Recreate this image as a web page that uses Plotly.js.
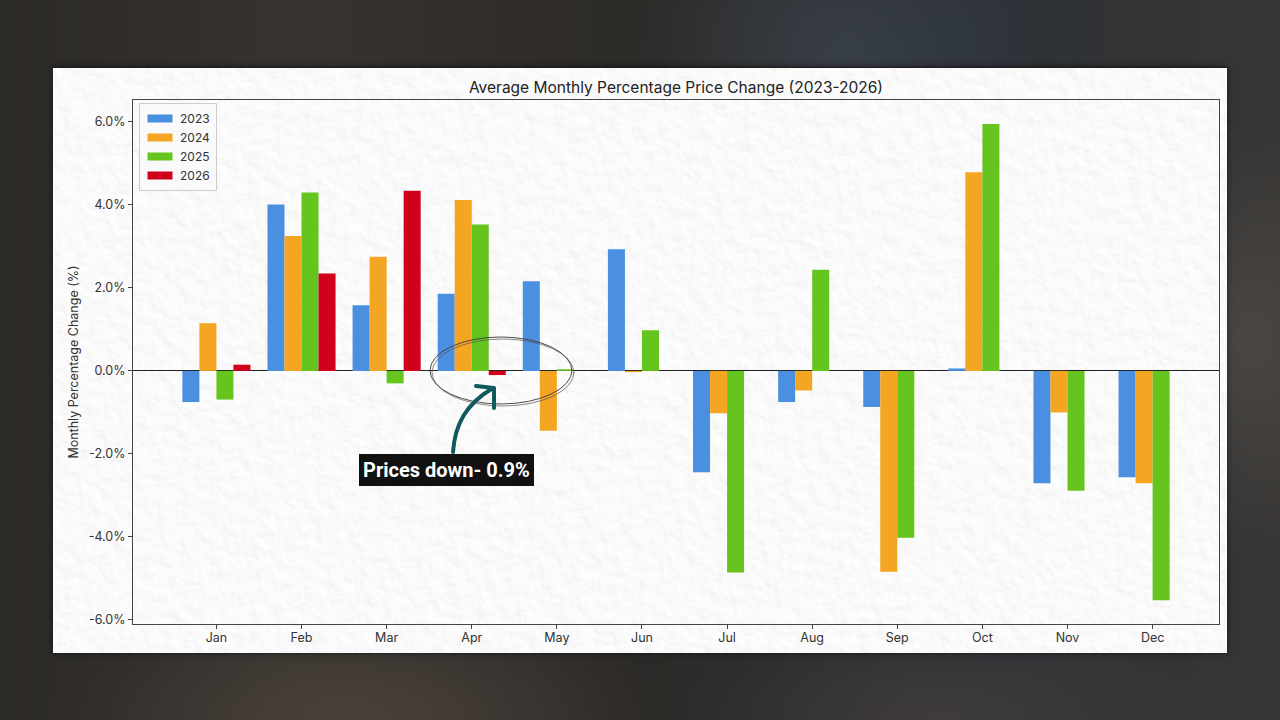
<!DOCTYPE html>
<html>
<head>
<meta charset="utf-8">
<script src="https://cdn.plot.ly/plotly-3.0.1.min.js"></script>
<style>
  html, body { margin: 0; padding: 0; width: 1280px; height: 720px; overflow: hidden; background: #2c2a29; }
  #backdrop {
    position: absolute; left: -40px; top: -40px; width: 1360px; height: 800px;
    background:
      radial-gradient(ellipse 300px 260px at 880px 90px, rgba(70,80,95,0.5), rgba(0,0,0,0) 70%),
      radial-gradient(ellipse 260px 300px at 1280px 380px, rgba(90,85,80,0.55), rgba(0,0,0,0) 70%),
      radial-gradient(ellipse 420px 160px at 400px 760px, rgba(85,72,66,0.7), rgba(0,0,0,0) 70%),
      radial-gradient(ellipse 380px 160px at 980px 760px, rgba(80,70,64,0.6), rgba(0,0,0,0) 70%),
      linear-gradient(90deg, #2a2826 0%, #37342f 25%, #2c2a27 50%, #2b3036 75%, #3a3734 100%);
    filter: blur(18px);
  }
  #panel {
    position: absolute; left: 53px; top: 67px; width: 1174px; height: 585px;
    background: #f1f1f1; box-shadow: 0 0 6px rgba(0,0,0,0.55); border-top: 1px solid #1d1d1d;
    overflow: hidden;
  }
  #panel svg { position: absolute; left: 0; top: 0; }
  #chart { position: absolute; left: 0; top: 0; width: 1280px; height: 720px; }
</style>
</head>
<body>
<div id="backdrop"></div>
<div id="panel">
  <svg width="1174" height="585">
    <filter id="paper" x="0" y="0" width="100%" height="100%">
      <feTurbulence type="fractalNoise" baseFrequency="0.075" numOctaves="4" seed="7" result="n"/>
      <feDiffuseLighting in="n" lighting-color="#ffffff" surfaceScale="1.8" result="l">
        <feDistantLight azimuth="125" elevation="60"/>
      </feDiffuseLighting>
      <feComponentTransfer>
        <feFuncR type="linear" slope="0.30" intercept="0.70"/>
        <feFuncG type="linear" slope="0.30" intercept="0.70"/>
        <feFuncB type="linear" slope="0.30" intercept="0.70"/>
      </feComponentTransfer>
    </filter>
    <rect width="1174" height="585" filter="url(#paper)"/>
  </svg>
</div>
<div id="chart"></div>
<script>
// Monthly average percentage price change, by year
const months = ['Jan', 'Feb', 'Mar', 'Apr', 'May', 'Jun', 'Jul', 'Aug', 'Sep', 'Oct', 'Nov', 'Dec'];
const years = ['2023', '2024', '2025', '2026'];
const change2023 = [-0.75, 4.01, 1.58, 1.86, 2.16, 2.93, -2.44, -0.75, -0.87, 0.06, -2.71, -2.56];
const change2024 = [1.15, 3.25, 2.75, 4.12, -1.44, -0.03, -1.02, -0.47, -4.84, 4.79, -1.00, -2.71];
const change2025 = [-0.69, 4.30, -0.30, 3.53, 0.04, 0.98, -4.86, 2.44, -4.02, 5.95, -2.89, -5.53];
const change2026 = [0.15, 2.35, 4.34, -0.10];
const yearColors = ['#4a8fe0', '#f4a522', '#66c41e', '#d0021b'];
const seriesValues = [change2023, change2024, change2025, change2026];

const FONT = 'Inter, Roboto, "Noto Sans", sans-serif';

// plot area in page pixels
const L = 133, R = 1219, T = 100, B = 624;
const W = R - L, H = B - T;
const px = x => (x - L) / W;
const py = y => (B - y) / H;

const traces = seriesValues.map((vals, i) => ({
  type: 'bar',
  name: years[i],
  x: months.slice(0, vals.length),
  y: vals,
  marker: { color: yearColors[i], line: { width: 0 } },
  hoverinfo: 'skip'
}));

function pathFrom(points) {
  return points.map((p, i) => (i === 0 ? 'M' : (p.length === 6 ? 'C' : 'L')) +
    (p.length === 6
      ? [px(p[0]), py(p[1]), px(p[2]), py(p[3]), px(p[4]), py(p[5])].join(',')
      : px(p[0]) + ',' + py(p[1]))).join(' ');
}

const arrowStem = pathFrom([[453, 452], [455, 424, 466, 404, 493, 388]]);
const arrowHead = pathFrom([[476, 386], [494, 388], [494, 408]]);

const layout = {
  width: 1280, height: 720,
  margin: { l: L, r: 1280 - R, t: T, b: 720 - B, pad: 0 },
  paper_bgcolor: 'rgba(0,0,0,0)',
  plot_bgcolor: 'rgba(0,0,0,0)',
  font: { family: FONT, color: '#333333', size: 12 },
  barmode: 'group',
  bargap: 0.2,
  bargroupgap: 0,
  title: {
    text: 'Average Monthly Percentage Price Change (2023-2026)',
    font: { family: FONT, size: 15.5, color: '#222222' },
    x: 0.5, xref: 'paper', xanchor: 'center',
    y: 1 - 88 / 720, yref: 'container', yanchor: 'middle'
  },
  xaxis: {
    type: 'category',
    range: [-0.98, 11.78],
    showline: true, linecolor: '#444444', linewidth: 1, mirror: true,
    ticks: 'outside', ticklen: 4, tickcolor: '#444444',
    tickfont: { family: FONT, size: 12.5, color: '#333333' },
    ticklabelstandoff: -2,
    showgrid: false, zeroline: false
  },
  yaxis: {
    range: [-6.10, 6.53],
    tickvals: [-6, -4, -2, 0, 2, 4, 6],
    ticktext: ['-6.0%', '-4.0%', '-2.0%', '0.0%', '2.0%', '4.0%', '6.0%'],
    showline: true, linecolor: '#444444', linewidth: 1, mirror: true,
    ticks: 'outside', ticklen: 4, tickcolor: '#444444',
    tickfont: { family: FONT, size: 12.5, color: '#333333' },
    showgrid: false,
    zeroline: true, zerolinecolor: '#222222', zerolinewidth: 1,
    title: {
      text: 'Monthly Percentage Change (%)',
      font: { family: FONT, size: 12.5, color: '#333333' },
      standoff: 7
    }
  },
  legend: {
    x: px(139), y: py(103), xanchor: 'left', yanchor: 'top',
    bgcolor: 'rgba(250,250,250,0.75)', bordercolor: '#cccccc', borderwidth: 1,
    font: { family: FONT, size: 12, color: '#333333' },
    tracegroupgap: 0
  },
  shapes: [
    { type: 'circle', xref: 'paper', yref: 'paper',
      x0: px(430), x1: px(572), y0: py(404), y1: py(337),
      line: { color: '#3a3a3a', width: 0.9 } },
    { type: 'circle', xref: 'paper', yref: 'paper',
      x0: px(432), x1: px(574), y0: py(406), y1: py(339),
      line: { color: '#555555', width: 0.7 } },
    { type: 'path', xref: 'paper', yref: 'paper', path: arrowStem,
      line: { color: '#10595c', width: 4 } },
    { type: 'path', xref: 'paper', yref: 'paper', path: arrowHead,
      line: { color: '#10595c', width: 4 } }
  ],
  annotations: [{
    xref: 'paper', yref: 'paper', x: px(446.5), y: py(470.5),
    xanchor: 'center', yanchor: 'middle', showarrow: false,
    text: '<b>Prices down- 0.9%</b>',
    font: { family: 'Roboto, Inter, sans-serif', size: 20, color: '#ffffff' },
    bgcolor: '#111111', bordercolor: '#111111', borderwidth: 1, borderpad: 3
  }]
};

Plotly.newPlot('chart', traces, layout, { staticPlot: true, displayModeBar: false }).then(gd => {
  // widen legend swatches into flat bars
  gd.querySelectorAll('.legend .legendpoints path').forEach(p => {
    p.setAttribute('d', 'M12.5,4H-12.5V-4H12.5Z');
  });
  // round line ends of the arrow
  gd.querySelectorAll('.shapelayer path').forEach(p => {
    p.style.strokeLinecap = 'round';
    p.style.strokeLinejoin = 'round';
  });
});
</script>
</body>
</html>
